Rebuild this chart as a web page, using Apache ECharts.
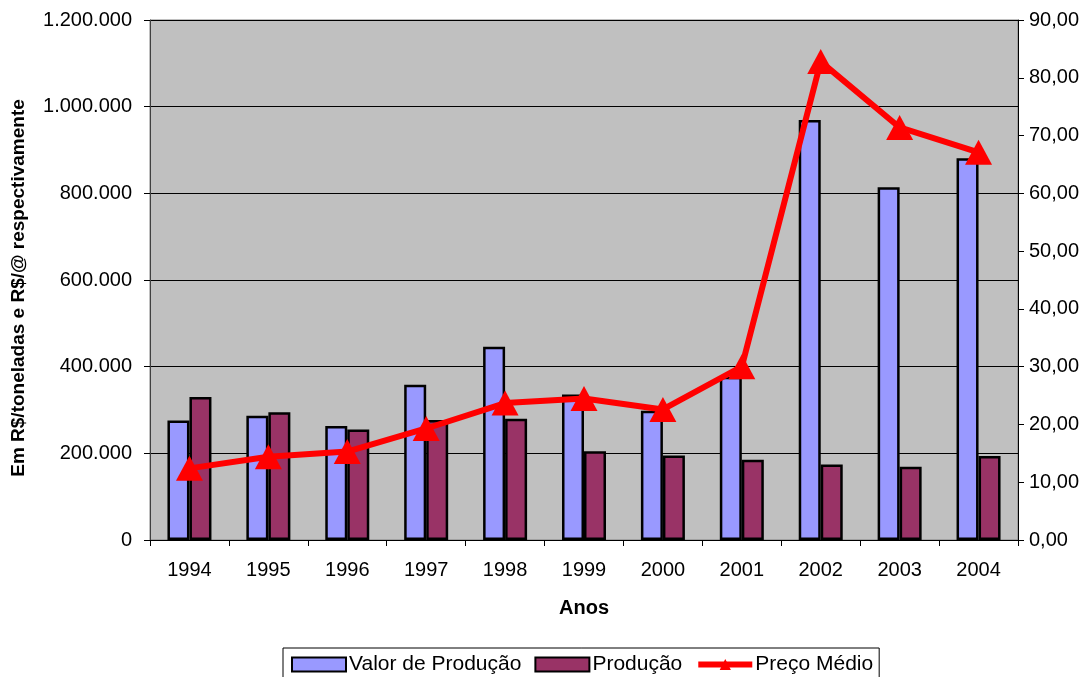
<!DOCTYPE html>
<html>
<head>
<meta charset="utf-8">
<script src="https://cdn.jsdelivr.net/npm/echarts@6/dist/echarts.min.js"></script>
<style>
  html, body { margin: 0; padding: 0; background: #ffffff; }
  #chart { width: 1086px; height: 677px; }
</style>
</head>
<body>
<div id="chart"></div>
<script>
// Anos
const anos = ['1994', '1995', '1996', '1997', '1998', '1999', '2000', '2001', '2002', '2003', '2004'];
// Valor de Produção (R$)
const valorProducao = [276000, 287000, 263000, 358000, 446000, 336000, 298000, 377000, 969000, 814000, 881000];
// Produção (toneladas)
const producao = [330000, 295000, 255000, 277000, 280000, 205000, 195000, 185000, 174000, 169000, 194000];
// Preço Médio (R$/@)
const precoMedio = [12.4, 14.4, 15.3, 19.3, 23.7, 24.5, 22.6, 30.0, 82.8, 71.4, 67.1];

const FONT = 'Liberation Sans, Arial, sans-serif';

function milhar(v) {
  return String(Math.round(v)).replace(/\B(?=(\d{3})+(?!\d))/g, '.');
}

const chart = echarts.init(document.getElementById('chart'), null, { renderer: 'canvas' });

chart.setOption({
  backgroundColor: '#ffffff',
  animation: false,
  textStyle: { fontFamily: FONT, color: '#000' },
  grid: {
    left: 150, right: 68, top: 20, bottom: 137,
    show: true,
    backgroundColor: '#C0C0C0',
    borderColor: '#808080',
    borderWidth: 1
  },
  legend: {
    left: 283,
    top: 648,
    itemGap: 13,
    itemWidth: 54,
    itemHeight: 14,
    padding: [6, 6, 10, 8],
    borderColor: '#000',
    borderWidth: 1,
    backgroundColor: '#fff',
    textStyle: { fontFamily: FONT, fontSize: 21, color: '#000', padding: [0, 0, 0, -2] },
    data: [
      { name: 'Valor de Produção', icon: 'rect' },
      { name: 'Produção', icon: 'rect' },
      { name: 'Preço Médio', lineStyle: { width: 6, color: '#FF0000' } }
    ]
  },
  xAxis: {
    type: 'category',
    data: anos,
    name: 'Anos',
    nameLocation: 'middle',
    nameGap: 58,
    nameTextStyle: { fontFamily: FONT, fontSize: 20, fontWeight: 'bold', color: '#000' },
    axisLine: { lineStyle: { color: '#000', width: 1 } },
    axisTick: { show: true, length: 6, lineStyle: { color: '#000' } },
    axisLabel: { fontFamily: FONT, fontSize: 20, color: '#000', margin: 20 }
  },
  yAxis: [
    {
      type: 'value',
      min: 0, max: 1200000, interval: 200000,
      name: 'Em R$/toneladas e R$/@ respectivamente',
      nameLocation: 'middle',
      nameGap: 122,
      nameRotate: 90,
      nameTextStyle: {
        fontFamily: FONT, fontSize: 19, fontWeight: 'bold', color: '#000',
        padding: [0, 16, 0, 0]
      },
      axisLine: { show: true, lineStyle: { color: '#404040', width: 1 } },
      axisTick: { show: true, length: 6, lineStyle: { color: '#000' } },
      axisLabel: { fontFamily: FONT, fontSize: 20, color: '#000', margin: 18, formatter: milhar },
      splitLine: { show: true, lineStyle: { color: '#000', width: 1 } }
    },
    {
      type: 'value',
      min: 0, max: 90, interval: 10,
      position: 'right',
      axisLine: { show: true, lineStyle: { color: '#000', width: 1 } },
      axisTick: { show: true, length: 6, lineStyle: { color: '#000' } },
      axisLabel: {
        fontFamily: FONT, fontSize: 20, color: '#000', margin: 11,
        formatter: v => v.toFixed(2).replace('.', ',')
      },
      splitLine: { show: false }
    }
  ],
  series: [
    {
      name: 'Valor de Produção',
      type: 'bar',
      yAxisIndex: 0,
      data: valorProducao,
      barWidth: 22,
      barGap: '0%',
      itemStyle: { color: '#9999FF', borderColor: '#000', borderWidth: 2.5 }
    },
    {
      name: 'Produção',
      type: 'bar',
      yAxisIndex: 0,
      data: producao,
      barWidth: 22,
      barGap: '0%',
      itemStyle: { color: '#993366', borderColor: '#000', borderWidth: 2.5 }
    },
    {
      name: 'Preço Médio',
      type: 'line',
      yAxisIndex: 1,
      data: precoMedio,
      symbol: 'triangle',
      symbolSize: [27, 25],
      lineStyle: { color: '#FF0000', width: 6 },
      itemStyle: { color: '#FF0000' },
      z: 5
    }
  ]
});
</script>
</body>
</html>
